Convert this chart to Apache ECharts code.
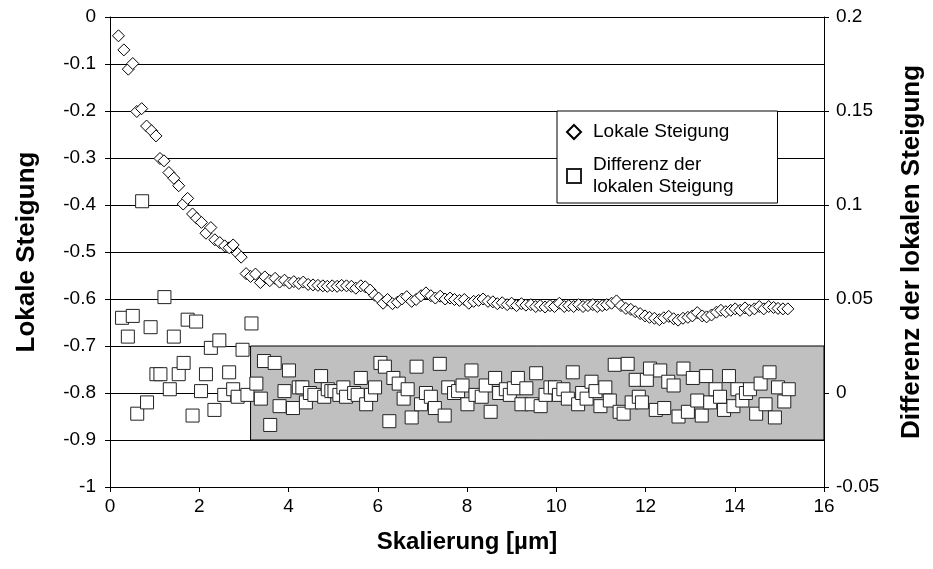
<!DOCTYPE html>
<html>
<head>
<meta charset="utf-8">
<script src="https://cdn.jsdelivr.net/npm/echarts@6/dist/echarts.min.js"></script>
<style>
  html, body { margin: 0; padding: 0; background: #fff; }
  #chart { width: 933px; height: 569px; }
</style>
</head>
<body>
<div id="chart"></div>
<script>
// Local slope (left axis)
const slopeX = [0.19,0.31,0.41,0.51,0.60,0.71,0.82,0.93,1.03,1.12,1.21,1.32,1.43,1.54,1.64,1.74,1.85,1.94,2.05,2.15,
  2.26,2.35,2.46,2.57,2.67,2.76,2.86,2.94,3.05,3.15,3.26,3.37,3.47,3.58,3.70,3.80,3.91,4.02,4.12,4.23,
  4.33,4.44,4.55,4.66,4.77,4.87,4.98,5.09,5.19,5.30,5.41,5.51,5.62,5.72,5.83,5.93,6.02,6.12,6.22,6.33,
  6.44,6.54,6.65,6.76,6.86,6.97,7.08,7.19,7.29,7.40,7.51,7.62,7.72,7.83,7.94,8.04,8.15,8.26,8.36,8.47,
  8.58,8.68,8.79,8.90,9.00,9.11,9.22,9.32,9.43,9.54,9.64,9.75,9.86,9.96,10.07,10.18,10.28,10.39,10.50,10.60,
  10.71,10.82,10.92,11.03,11.13,11.24,11.35,11.45,11.56,11.67,11.77,11.88,11.99,12.09,12.20,12.31,12.41,12.52,12.63,12.73,
  12.84,12.95,13.05,13.16,13.27,13.37,13.48,13.59,13.69,13.80,13.91,14.01,14.12,14.23,14.33,14.44,14.55,14.65,14.76,14.87,
  14.97,15.08,15.19];
const slopeY = [-0.040,-0.070,-0.111,-0.099,-0.201,-0.195,-0.232,-0.242,-0.253,-0.301,-0.306,-0.331,-0.343,-0.359,-0.398,-0.386,-0.419,-0.428,-0.437,-0.460,
  -0.448,-0.474,-0.480,-0.487,-0.491,-0.485,-0.503,-0.511,-0.546,-0.552,-0.547,-0.565,-0.553,-0.561,-0.556,-0.564,-0.560,-0.566,-0.563,-0.567,
  -0.564,-0.569,-0.570,-0.571,-0.572,-0.573,-0.572,-0.573,-0.571,-0.572,-0.573,-0.577,-0.572,-0.574,-0.581,-0.592,-0.598,-0.609,-0.601,-0.610,
  -0.607,-0.600,-0.595,-0.605,-0.601,-0.593,-0.587,-0.593,-0.598,-0.594,-0.600,-0.598,-0.601,-0.603,-0.601,-0.609,-0.605,-0.603,-0.600,-0.605,
  -0.606,-0.610,-0.608,-0.612,-0.609,-0.614,-0.610,-0.613,-0.612,-0.616,-0.614,-0.617,-0.614,-0.616,-0.609,-0.616,-0.614,-0.616,-0.612,-0.616,
  -0.614,-0.612,-0.616,-0.614,-0.612,-0.609,-0.604,-0.614,-0.620,-0.622,-0.627,-0.631,-0.636,-0.639,-0.641,-0.644,-0.640,-0.637,-0.642,-0.645,
  -0.641,-0.639,-0.636,-0.629,-0.636,-0.638,-0.634,-0.628,-0.624,-0.627,-0.624,-0.621,-0.624,-0.619,-0.624,-0.621,-0.616,-0.621,-0.616,-0.618,
  -0.620,-0.621,-0.621];

// Difference of the local slope (right axis)
const diffX = [0.27,0.40,0.51,0.61,0.72,0.83,0.91,1.04,1.13,1.22,1.34,1.43,1.54,1.65,1.74,1.85,1.93,2.04,2.15,2.26,
  2.34,2.45,2.56,2.67,2.76,2.86,2.97,3.08,3.17,3.28,3.38,3.45,3.59,3.69,3.80,3.91,4.01,4.10,4.23,4.31,
  4.39,4.48,4.58,4.73,4.80,4.88,4.96,5.03,5.14,5.23,5.29,5.47,5.55,5.62,5.74,5.85,5.94,6.06,6.16,6.26,
  6.35,6.47,6.58,6.67,6.76,6.87,6.97,7.08,7.19,7.28,7.39,7.50,7.58,7.71,7.80,7.90,8.01,8.10,8.19,8.33,
  8.42,8.53,8.63,8.72,8.87,8.96,9.05,9.14,9.22,9.33,9.45,9.55,9.65,9.76,9.87,9.97,10.06,10.16,10.26,10.37,
  10.49,10.58,10.68,10.79,10.88,10.99,11.10,11.20,11.31,11.42,11.51,11.60,11.69,11.78,11.85,11.92,12.03,12.10,12.23,12.33,
  12.42,12.51,12.63,12.74,12.85,12.95,13.06,13.16,13.26,13.36,13.45,13.57,13.67,13.76,13.87,13.97,14.06,14.17,14.25,14.34,
  14.48,14.58,14.69,14.78,14.90,14.97,15.11,15.21];
const diffY = [0.040,0.030,0.041,-0.011,0.102,-0.005,0.035,0.010,0.010,0.051,0.002,0.030,0.010,0.016,0.039,-0.012,0.038,0.001,0.010,0.024,
  -0.009,0.028,-0.001,0.011,0.002,-0.002,0.023,-0.001,0.037,0.005,-0.003,0.017,-0.017,0.016,-0.007,0.001,0.012,-0.008,0.003,0.003,
  -0.005,0.000,-0.001,0.009,-0.002,0.002,0.001,0.001,-0.001,0.003,-0.002,0.000,-0.001,0.008,-0.006,-0.001,0.003,0.016,0.014,-0.015,
  0.008,0.005,-0.003,0.002,-0.013,0.014,-0.006,0.000,-0.002,-0.008,0.0155,-0.012,0.003,0.000,0.001,0.004,-0.006,0.012,-0.001,-0.002,
  0.004,-0.010,0.008,0.000,0.002,-0.001,0.0025,0.008,-0.006,0.0025,-0.006,0.0105,-0.007,-0.001,0.003,0.003,-0.001,0.002,-0.003,0.011,
  -0.006,0.000,-0.003,0.006,0.001,-0.007,0.003,-0.004,0.015,-0.010,-0.011,0.0155,-0.005,0.007,-0.002,-0.005,0.007,0.013,-0.009,0.012,
  -0.008,0.006,0.004,-0.0125,0.013,-0.010,0.008,-0.004,-0.012,0.009,-0.005,0.002,-0.002,-0.009,0.009,-0.007,0.002,-0.004,0.000,0.002,
  -0.011,0.005,-0.006,0.011,-0.013,0.003,-0.0045,0.002];

// Shaded band on the right axis: [x start, x end, upper value, lower value]
const bandRange = [3.15, 16, 0.025, -0.025];

const seriesNames = ['Lokale Steigung', 'Differenz der lokalen Steigung'];
const axisTitles = ['Skalierung [µm]', 'Lokale Steigung', 'Differenz der lokalen Steigung'];

const FONT = 'Liberation Sans, Arial, Helvetica, sans-serif';

const chart = echarts.init(document.getElementById('chart'), null, { renderer: 'canvas' });

const tickLabel = { color: '#000', fontFamily: FONT, fontSize: 19 };
const xTitleStyle = { color: '#000', fontFamily: FONT, fontSize: 24, fontWeight: 'bold' };
const yTitleStyle = { color: '#000', fontFamily: FONT, fontSize: 26, fontWeight: 'bold' };

chart.setOption({
  animation: false,
  backgroundColor: '#fff',
  grid: { left: 110, right: 107, top: 17, bottom: 82, containLabel: false },
  legend: {
    orient: 'vertical',
    left: 557,
    top: 111,
    padding: [10, 44, 5, 9],
    itemGap: 11,
    itemWidth: 14,
    itemHeight: 14,
    backgroundColor: '#fff',
    borderColor: '#000',
    borderWidth: 1,
    borderRadius: 0,
    textStyle: { color: '#000', fontFamily: FONT, fontSize: 19, lineHeight: 22, padding: [0, 0, 0, 7] },
    formatter: function (name) {
      return name === seriesNames[1] ? 'Differenz der\nlokalen Steigung' : name;
    },
    data: seriesNames
  },
  xAxis: {
    type: 'value',
    min: 0, max: 16, interval: 2,
    name: axisTitles[0],
    nameLocation: 'middle',
    nameGap: 43,
    nameTextStyle: xTitleStyle,
    axisLine: { onZero: false, lineStyle: { color: '#000', width: 1 } },
    axisTick: { show: true, inside: false, length: 5, lineStyle: { color: '#000' } },
    axisLabel: Object.assign({ margin: 10 }, tickLabel),
    splitLine: { show: false }
  },
  yAxis: [
    {
      type: 'value',
      min: -1, max: 0, interval: 0.1,
      name: axisTitles[1],
      nameLocation: 'middle',
      nameGap: 70,
      nameRotate: 90,
      nameTextStyle: yTitleStyle,
      axisLine: { show: true, onZero: false, lineStyle: { color: '#000', width: 1 } },
      axisTick: { show: true, inside: false, length: 5, lineStyle: { color: '#000' } },
      axisLabel: Object.assign({ margin: 14 }, tickLabel),
      splitLine: { show: true, lineStyle: { color: '#000', width: 1 } }
    },
    {
      type: 'value',
      position: 'right',
      min: -0.05, max: 0.2, interval: 0.05,
      name: axisTitles[2],
      nameLocation: 'middle',
      nameGap: 75,
      nameRotate: 90,
      nameTextStyle: yTitleStyle,
      axisLine: { show: true, onZero: false, lineStyle: { color: '#000', width: 1 } },
      axisTick: { show: true, inside: false, length: 5, lineStyle: { color: '#000' } },
      axisLabel: Object.assign({ margin: 12 }, tickLabel),
      splitLine: { show: false }
    }
  ],
  series: [
    {
      name: seriesNames[0],
      type: 'scatter',
      yAxisIndex: 0,
      symbol: 'diamond',
      symbolSize: 12,
      itemStyle: { color: '#fff', borderColor: '#000', borderWidth: 1, opacity: 1 },
      emphasis: { disabled: true },
      data: slopeX.map((x, i) => [x, slopeY[i]]),
      z: 3
    },
    {
      name: seriesNames[1],
      type: 'scatter',
      yAxisIndex: 1,
      symbol: 'rect',
      symbolSize: 13,
      itemStyle: { color: '#fff', borderColor: '#222', borderWidth: 1, opacity: 1 },
      emphasis: { disabled: true },
      data: diffX.map((x, i) => [x, diffY[i]]),
      markArea: {
        silent: true,
        itemStyle: { color: '#c0c0c0', borderColor: '#000', borderWidth: 1, opacity: 1 },
        data: [[
          { xAxis: bandRange[0], yAxis: bandRange[2] },
          { xAxis: bandRange[1], yAxis: bandRange[3] }
        ]]
      },
      z: 2
    }
  ]
});
</script>
</body>
</html>
